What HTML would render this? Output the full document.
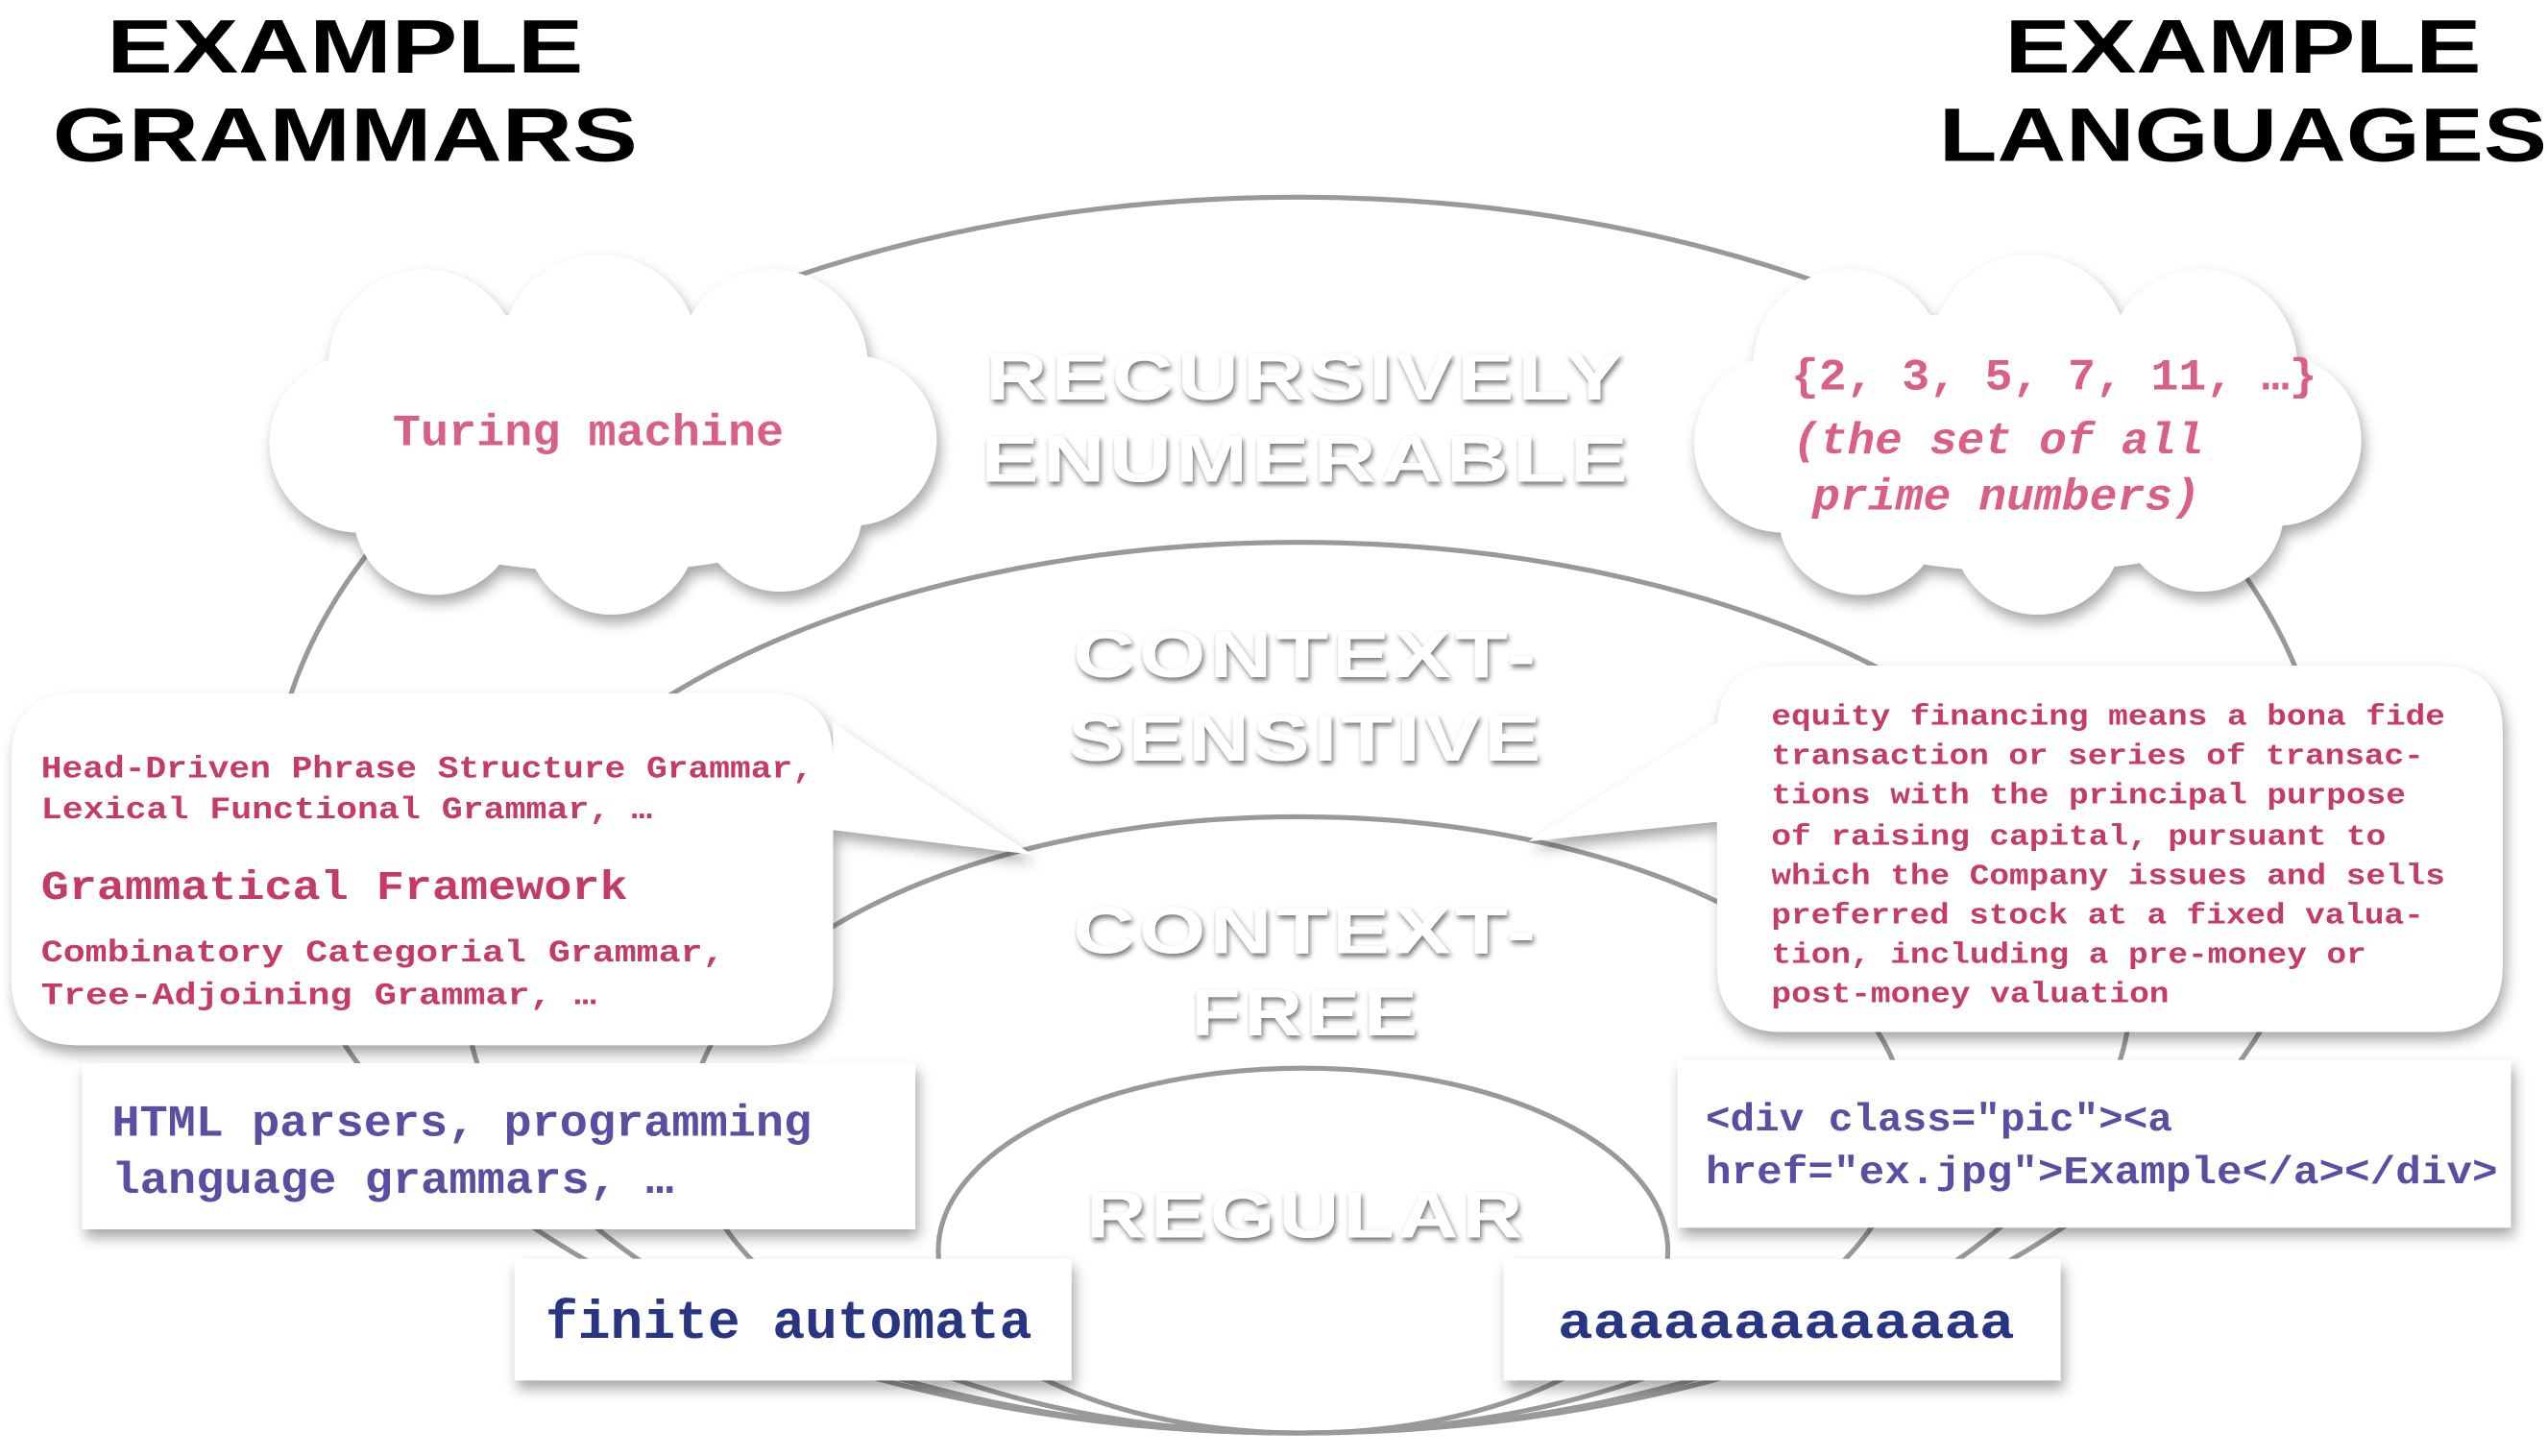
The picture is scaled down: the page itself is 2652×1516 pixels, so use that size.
<!DOCTYPE html>
<html><head><meta charset="utf-8"><style>
html,body{margin:0;padding:0;background:#fff;}
svg{display:block;}
.t{font-family:"Liberation Sans",sans-serif;font-weight:bold;}
.m{font-family:"Liberation Mono",monospace;font-weight:bold;}
.lab{font-family:"Liberation Sans",sans-serif;font-weight:bold;fill:#fff;font-size:40px;text-anchor:middle;filter:url(#ts);letter-spacing:2px;}
</style></head><body>
<svg width="2652" height="1516" viewBox="0 0 1550 886" preserveAspectRatio="none" xmlns="http://www.w3.org/2000/svg">
<defs>
<filter id="sh" x="-20%" y="-20%" width="140%" height="150%"><feDropShadow dx="2" dy="5" stdDeviation="4" flood-color="#000" flood-opacity="0.35"/></filter>
<filter id="ts" x="-10%" y="-30%" width="120%" height="160%"><feDropShadow dx="1" dy="2" stdDeviation="1.5" flood-color="#000" flood-opacity="0.55"/></filter>
</defs>
<rect width="1550" height="886" fill="#fff"/>
<text class="t" x="210" y="44" font-size="46" text-anchor="middle" textLength="290" lengthAdjust="spacingAndGlyphs">EXAMPLE</text>
<text class="t" x="210" y="98" font-size="46" text-anchor="middle" textLength="356" lengthAdjust="spacingAndGlyphs">GRAMMARS</text>
<text class="t" x="1365" y="44" font-size="46" text-anchor="middle" textLength="290" lengthAdjust="spacingAndGlyphs">EXAMPLE</text>
<text class="t" x="1365" y="98" font-size="46" text-anchor="middle" textLength="370" lengthAdjust="spacingAndGlyphs">LANGUAGES</text>

<g fill="none" stroke="#999" stroke-width="3">
<ellipse cx="790" cy="496" rx="625" ry="376"/>
<ellipse cx="790" cy="601" rx="507" ry="271"/>
<ellipse cx="790" cy="684.5" rx="370" ry="187.5"/>
<ellipse cx="793" cy="761" rx="222" ry="111"/>
</g>

<text class="lab" x="795" y="243" textLength="390" lengthAdjust="spacingAndGlyphs">RECURSIVELY</text>
<text class="lab" x="795" y="293" textLength="396" lengthAdjust="spacingAndGlyphs">ENUMERABLE</text>
<text class="lab" x="795" y="412" textLength="284" lengthAdjust="spacingAndGlyphs">CONTEXT-</text>
<text class="lab" x="795" y="463" textLength="290" lengthAdjust="spacingAndGlyphs">SENSITIVE</text>
<text class="lab" x="795" y="580" textLength="284" lengthAdjust="spacingAndGlyphs">CONTEXT-</text>
<text class="lab" x="795" y="630" textLength="140" lengthAdjust="spacingAndGlyphs">FREE</text>
<text class="lab" x="795" y="753" textLength="268" lengthAdjust="spacingAndGlyphs">REGULAR</text>

<g fill="#fff" filter="url(#sh)">
<circle cx="258" cy="222" r="58"/><circle cx="365" cy="215" r="60"/><circle cx="470" cy="222" r="58"/>
<circle cx="218" cy="270" r="54"/><circle cx="518" cy="268" r="52"/>
<circle cx="265" cy="312" r="50"/><circle cx="372" cy="322" r="52"/><circle cx="475" cy="310" r="50"/>
<ellipse cx="367" cy="268" rx="190" ry="80"/>
</g>
<g fill="#fff" filter="url(#sh)">
<circle cx="1125" cy="222" r="58"/><circle cx="1235" cy="215" r="60"/><circle cx="1340" cy="222" r="58"/>
<circle cx="1085" cy="270" r="54"/><circle cx="1385" cy="268" r="52"/>
<circle cx="1132" cy="312" r="50"/><circle cx="1240" cy="322" r="52"/><circle cx="1340" cy="310" r="50"/>
<ellipse cx="1234" cy="268" rx="190" ry="80"/>
</g>
<text class="m" x="358" y="271" font-size="27" fill="#d95f85" text-anchor="middle" textLength="238" lengthAdjust="spacingAndGlyphs">Turing machine</text>
<text class="m" x="1250" y="237" font-size="27" fill="#d95f85" text-anchor="middle" textLength="320" lengthAdjust="spacingAndGlyphs">{2, 3, 5, 7, 11, …}</text>
<text class="m" x="1216" y="276" font-size="27" fill="#d95f85" text-anchor="middle" font-style="italic" textLength="250" lengthAdjust="spacingAndGlyphs">(the set of all</text>
<text class="m" x="1221" y="310" font-size="27" fill="#d95f85" text-anchor="middle" font-style="italic" textLength="236" lengthAdjust="spacingAndGlyphs">prime numbers)</text>

<path filter="url(#sh)" fill="#fff" d="M47,422 H467 Q507,422 507,462 V440 L628,520 L507,505 V596 Q507,636 467,636 H47 Q7,636 7,596 V462 Q7,422 47,422 Z"/>
<g class="m" fill="#c43b63">
<text x="25" y="473" font-size="19" textLength="470" lengthAdjust="spacingAndGlyphs">Head-Driven Phrase Structure Grammar,</text>
<text x="25" y="498" font-size="19" textLength="372" lengthAdjust="spacingAndGlyphs">Lexical Functional Grammar, …</text>
<text x="25" y="547" font-size="25" textLength="357" lengthAdjust="spacingAndGlyphs">Grammatical Framework</text>
<text x="25" y="585" font-size="19" textLength="416" lengthAdjust="spacingAndGlyphs">Combinatory Categorial Grammar,</text>
<text x="25" y="611" font-size="19" textLength="338" lengthAdjust="spacingAndGlyphs">Tree-Adjoining Grammar, …</text>
</g>

<path filter="url(#sh)" fill="#fff" d="M1085,405 H1483 Q1523,405 1523,445 V588 Q1523,628 1483,628 H1085 Q1045,628 1045,588 V500 L930,512 L1045,440 V445 Q1045,405 1085,405 Z"/>
<g class="m" fill="#c43b63" font-size="18">
<text x="1078" y="441" textLength="410" lengthAdjust="spacingAndGlyphs">equity financing means a bona fide</text>
<text x="1078" y="465" textLength="397" lengthAdjust="spacingAndGlyphs">transaction or series of transac-</text>
<text x="1078" y="489" textLength="386" lengthAdjust="spacingAndGlyphs">tions with the principal purpose</text>
<text x="1078" y="514" textLength="374" lengthAdjust="spacingAndGlyphs">of raising capital, pursuant to</text>
<text x="1078" y="538" textLength="410" lengthAdjust="spacingAndGlyphs">which the Company issues and sells</text>
<text x="1078" y="562" textLength="397" lengthAdjust="spacingAndGlyphs">preferred stock at a fixed valua-</text>
<text x="1078" y="586" textLength="362" lengthAdjust="spacingAndGlyphs">tion, including a pre-money or</text>
<text x="1078" y="610" textLength="242" lengthAdjust="spacingAndGlyphs">post-money valuation</text>
</g>

<rect x="50" y="647" width="507" height="101" fill="#fff" filter="url(#sh)"/>
<text class="m" x="68" y="691" font-size="27" fill="#5a4ea3" textLength="426" lengthAdjust="spacingAndGlyphs">HTML parsers, programming</text>
<text class="m" x="68" y="726" font-size="27" fill="#5a4ea3" textLength="342" lengthAdjust="spacingAndGlyphs">language grammars, …</text>

<rect x="313" y="766" width="339" height="74" fill="#fff" filter="url(#sh)"/>
<text class="m" x="332" y="814" font-size="33" fill="#283583" textLength="296" lengthAdjust="spacingAndGlyphs">finite automata</text>

<rect x="1021" y="645" width="507" height="102" fill="#fff" filter="url(#sh)"/>
<text class="m" x="1038" y="688" font-size="24" fill="#5a4ea3" textLength="284" lengthAdjust="spacingAndGlyphs">&lt;div class="pic"&gt;&lt;a</text>
<text class="m" x="1038" y="720" font-size="24" fill="#5a4ea3" textLength="482" lengthAdjust="spacingAndGlyphs">href="ex.jpg"&gt;Example&lt;/a&gt;&lt;/div&gt;</text>

<rect x="915" y="766" width="339" height="74" fill="#fff" filter="url(#sh)"/>
<text class="m" x="948" y="814" font-size="31" fill="#283583" textLength="278" lengthAdjust="spacingAndGlyphs">aaaaaaaaaaaaa</text>
</svg>
</body></html>
